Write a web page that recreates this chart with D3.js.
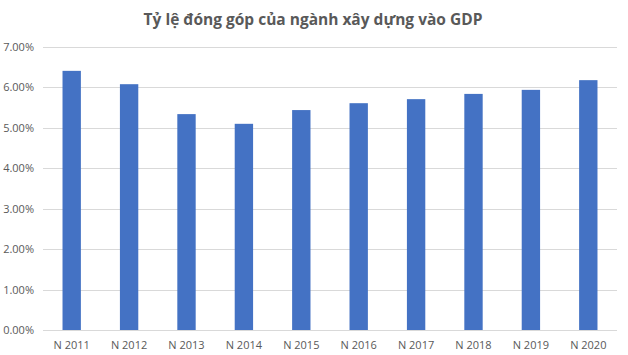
<!DOCTYPE html>
<html><head><meta charset="utf-8">
<script src="https://cdn.jsdelivr.net/npm/d3@7"></script>
<style>body{margin:0;background:#fff}svg{display:block}text{font-family:"Open Sans","Liberation Sans",sans-serif}</style>
</head><body>
<svg id="c" width="628" height="355"></svg>
<script>
const categories = ["N 2011","N 2012","N 2013","N 2014","N 2015","N 2016","N 2017","N 2018","N 2019","N 2020"];
const values = [6.41, 6.08, 5.34, 5.10, 5.44, 5.61, 5.71, 5.84, 5.94, 6.18];
const yTicks = [0,1,2,3,4,5,6,7];
const title = "Tỷ lệ đóng góp của ngành xây dựng vào GDP";

const svg = d3.select("#c");
const m = {l:43, r:11, t:47, b:25};
const W = 628, H = 355;
const x = d3.scaleBand().domain(categories).range([m.l, W-m.r]).paddingInner(0.68).paddingOuter(0.34);
const y = d3.scaleLinear().domain([0,7]).range([H-m.b, m.t]);

svg.append("g").selectAll("line").data(yTicks).join("line")
  .attr("x1", m.l).attr("x2", W-m.r)
  .attr("y1", d=>Math.round(y(d))+0.5).attr("y2", d=>Math.round(y(d))+0.5)
  .attr("stroke", "#d9d9d9").attr("stroke-width", 1);

svg.append("g").selectAll("rect").data(values).join("rect")
  .attr("x", (d,i)=>x(categories[i])).attr("width", x.bandwidth())
  .attr("y", d=>y(d)).attr("height", d=>y(0)-y(d))
  .attr("fill", "#4472C4");

svg.append("g").selectAll("text").data(yTicks).join("text")
  .attr("x", 34).attr("y", d=>y(d)+4)
  .attr("text-anchor","end").attr("font-size", 11).attr("fill","#595959")
  .text(d=>d3.format(".2f")(d)+"%");

svg.append("g").selectAll("text").data(categories).join("text")
  .attr("x", d=>x(d)+x.bandwidth()/2).attr("y", 349)
  .attr("text-anchor","middle").attr("font-size", 11).attr("fill","#595959")
  .text(d=>d);

svg.append("text").attr("x", 313).attr("y", 25).attr("text-anchor","middle")
  .attr("font-size", 15.5).attr("font-weight","bold").attr("fill","#595959")
  .text(title);
</script>
</body></html>
